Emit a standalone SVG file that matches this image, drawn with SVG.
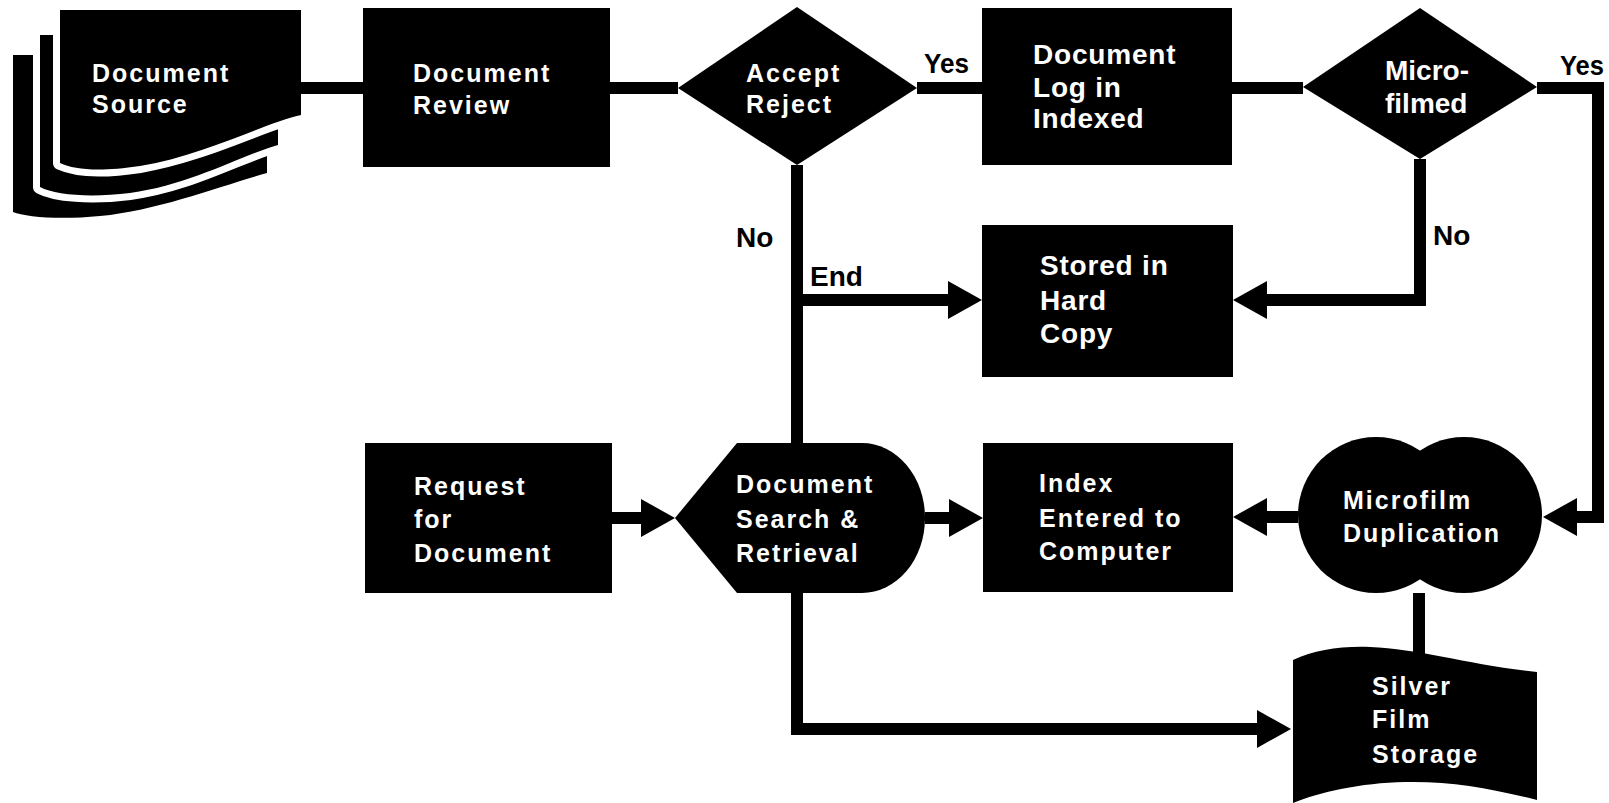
<svg xmlns="http://www.w3.org/2000/svg" width="1609" height="803" viewBox="0 0 1609 803">
  <defs>
    <marker id="arrow" markerUnits="userSpaceOnUse" markerWidth="40" markerHeight="40" viewBox="0 -20 40 40" refX="14" refY="0" orient="auto">
      <path d="M0,-19 L34,0 L0,19 Z" fill="#000"/>
    </marker>
  </defs>
  <style>
    .shape { fill: #000; }
    .sheet { fill: #000; stroke: #fff; stroke-width: 14; paint-order: stroke; stroke-linejoin: round; }
    .wide { font-family: "Liberation Sans", Arial, Helvetica, sans-serif; font-weight: bold; font-size: 25px; letter-spacing: 2px; fill: #fff; }
    .narrow { font-family: "Liberation Sans", Arial, Helvetica, sans-serif; font-weight: bold; font-size: 28px; letter-spacing: 0.8px; fill: #fff; }
    .tight { letter-spacing: 0; }
    .label { font-family: "Liberation Sans", Arial, Helvetica, sans-serif; font-weight: bold; font-size: 28px; fill: #000; }
    .conn { fill: none; stroke: #000; stroke-width: 12; stroke-linejoin: miter; stroke-linecap: butt; }
  </style>
  <rect width="1609" height="803" fill="#fff"/>

  <!-- stacked document sheets -->
  <g id="document-source">
    <path class="shape" d="M13,55 H267 V173 C220,186 160,210 100,216 C60,220 25,217 13,212 Z"/>
    <path class="sheet" d="M40,35 H278 V145 C240,156 190,185 130,193 C90,198 55,195 40,187 Z"/>
    <path class="sheet" d="M60,10 H301 V115 C262,124 205,155 140,166 C100,172 75,170 60,163 Z"/>
    <text class="wide" x="92" y="82">Document</text>
    <text class="wide" x="92" y="113">Source</text>
  </g>

  <g id="document-review">
    <rect class="shape" x="363" y="8" width="247" height="159"/>
    <text class="wide" x="413" y="82">Document</text>
    <text class="wide" x="413" y="114">Review</text>
  </g>

  <g id="accept-reject">
    <polygon class="shape" points="678,88 797,7 917,88 797,165"/>
    <text class="wide" x="746" y="82">Accept</text>
    <text class="wide" x="746" y="113">Reject</text>
  </g>

  <g id="document-log">
    <rect class="shape" x="982" y="8" width="250" height="157"/>
    <text class="narrow" x="1033" y="64">Document</text>
    <text class="narrow" x="1033" y="97">Log in</text>
    <text class="narrow" x="1033" y="128">Indexed</text>
  </g>

  <g id="microfilmed">
    <polygon class="shape" points="1303,87 1420,8 1537,87 1420,159"/>
    <text class="narrow tight" x="1385" y="80">Micro-</text>
    <text class="narrow tight" x="1385" y="113">filmed</text>
  </g>

  <g id="stored-hard-copy">
    <rect class="shape" x="982" y="225" width="251" height="152"/>
    <text class="narrow" x="1040" y="275">Stored in</text>
    <text class="narrow" x="1040" y="310">Hard</text>
    <text class="narrow" x="1040" y="343">Copy</text>
  </g>

  <g id="request-for-document">
    <rect class="shape" x="365" y="443" width="247" height="150"/>
    <text class="wide" x="414" y="495">Request</text>
    <text class="wide" x="414" y="528">for</text>
    <text class="wide" x="414" y="562">Document</text>
  </g>

  <g id="search-retrieval">
    <path class="shape" d="M737,443 H862 A63,75 0 0 1 862,593 H737 L675,518 Z"/>
    <text class="wide" x="736" y="493">Document</text>
    <text class="wide" x="736" y="528">Search &amp;</text>
    <text class="wide" x="736" y="562">Retrieval</text>
  </g>

  <g id="index-entered">
    <rect class="shape" x="983" y="443" width="250" height="149"/>
    <text class="wide" x="1039" y="492">Index</text>
    <text class="wide" x="1039" y="527">Entered to</text>
    <text class="wide" x="1039" y="560">Computer</text>
  </g>

  <g id="microfilm-duplication">
    <circle class="shape" cx="1376" cy="515" r="78"/>
    <circle class="shape" cx="1464" cy="515" r="78"/>
    <text class="wide" x="1343" y="509">Microfilm</text>
    <text class="wide" x="1343" y="542">Duplication</text>
  </g>

  <g id="silver-film-storage">
    <path class="shape" d="M1293,660 C1315,650 1340,646 1370,647 C1420,649 1470,665 1537,672 V800 C1490,788 1450,781 1405,782 C1360,783 1320,792 1293,803 Z"/>
    <text class="wide" x="1372" y="695">Silver</text>
    <text class="wide" x="1372" y="728">Film</text>
    <text class="wide" x="1372" y="763">Storage</text>
  </g>

  <g id="connectors">
    <path class="conn" d="M301,88 H363"/>
    <path class="conn" d="M610,88 H678"/>
    <path class="conn" d="M917,88 H982"/>
    <path class="conn" d="M1232,88 H1303"/>
    <path class="conn" d="M1537,88 H1598 V517 H1563" marker-end="url(#arrow)"/>
    <path class="conn" d="M1420,159 V300 H1253" marker-end="url(#arrow)"/>
    <path class="conn" d="M797,165 V443"/>
    <path class="conn" d="M797,300 H962" marker-end="url(#arrow)"/>
    <path class="conn" d="M612,518 H655" marker-end="url(#arrow)"/>
    <path class="conn" d="M925,518 H963" marker-end="url(#arrow)"/>
    <path class="conn" d="M1298,517 H1253" marker-end="url(#arrow)"/>
    <path class="conn" d="M1419,593 V655"/>
    <path class="conn" d="M797,593 V729 H1271" marker-end="url(#arrow)"/>
  </g>

  <g id="labels">
    <text class="label" x="924" y="73" textLength="45" lengthAdjust="spacingAndGlyphs">Yes</text>
    <text class="label" x="1560" y="75" textLength="44" lengthAdjust="spacingAndGlyphs">Yes</text>
    <text class="label" x="736" y="247">No</text>
    <text class="label" x="1433" y="245">No</text>
    <text class="label" x="810" y="286">End</text>
  </g>
</svg>
